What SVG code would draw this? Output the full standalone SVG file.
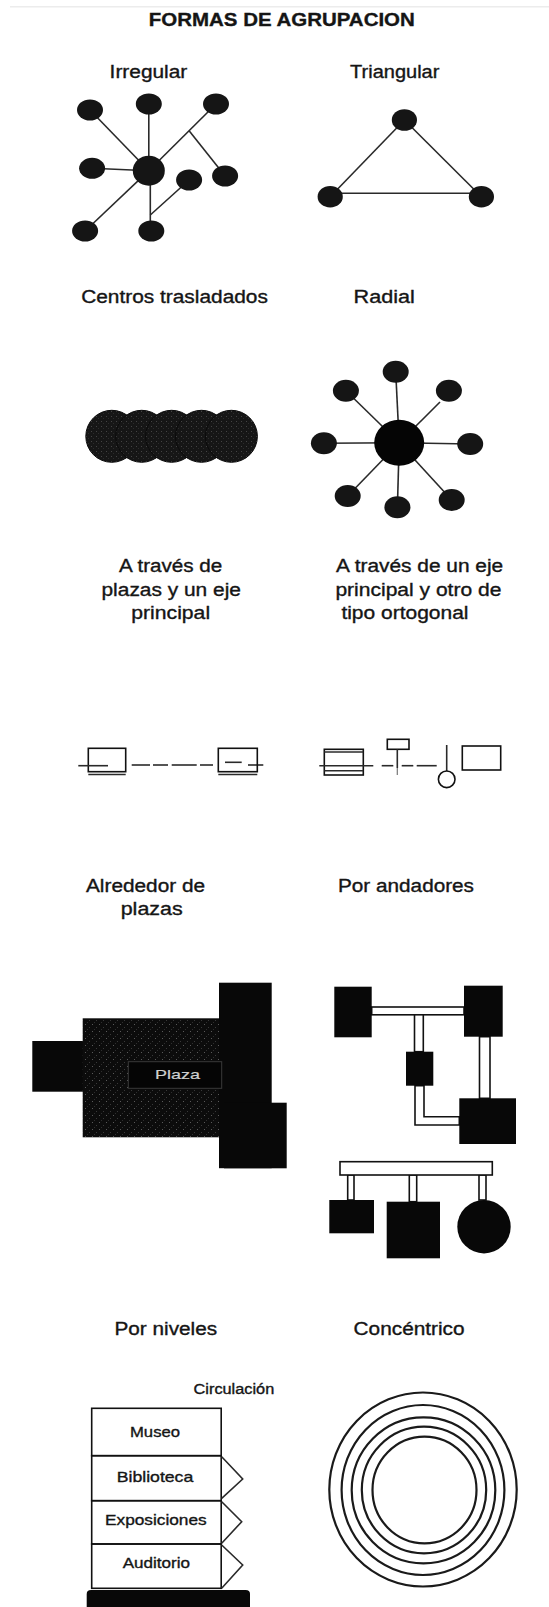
<svg xmlns="http://www.w3.org/2000/svg" width="549" height="1607" viewBox="0 0 549 1607">
<defs>
<pattern id="speck" width="7" height="7" patternUnits="userSpaceOnUse">
<rect width="7" height="7" fill="#0c0c0c"/>
<rect x="1" y="2" width="1" height="1" fill="#5a5a5a"/>
<rect x="5" y="5" width="1" height="1" fill="#3a3a3a"/>
<rect x="3" y="0" width="1" height="1" fill="#2e2e2e"/>
</pattern>
<pattern id="speck2" width="5" height="5" patternUnits="userSpaceOnUse">
<rect width="5" height="5" fill="#161616"/>
<rect x="1" y="1" width="1" height="1" fill="#444"/>
<rect x="3" y="3" width="1" height="1" fill="#2c2c2c"/>
</pattern>
</defs>
<style>
text{font-family:"Liberation Sans",Arial,sans-serif;fill:#151515;stroke:#151515;stroke-width:0.35}
.h{font-size:18px}
.t{font-size:15px}
.ln{stroke:#2a2a2a;stroke-width:1.6;fill:none}
.nd{fill:#151515}
.bx{fill:none;stroke:#111;stroke-width:1.6}
.blk{fill:#080808}
.walk{fill:#fff;stroke:#111;stroke-width:1.6}
.ring{fill:none;stroke:#1a1a1a;stroke-width:2.2}
</style>
<rect width="549" height="1607" fill="#fff"/>
<line x1="10" y1="6.7" x2="549" y2="6.7" stroke="#ececec" stroke-width="1.5"/>
<text x="148.8" y="26" font-size="18.6" font-weight="bold" textLength="266" lengthAdjust="spacingAndGlyphs">FORMAS DE AGRUPACION</text>

<!-- Irregular -->
<g id="irregular">
<text class="h" x="109.6" y="77.7" textLength="77.7" lengthAdjust="spacingAndGlyphs">Irregular</text>
<g id="irr-connectors">
<line class="ln" x1="148.8" y1="170.7" x2="90" y2="110"/>
<line class="ln" x1="148.8" y1="170.7" x2="148.8" y2="104"/>
<line class="ln" x1="148.8" y1="170.7" x2="216" y2="104"/>
<line class="ln" x1="189.1" y1="130.7" x2="225.1" y2="176"/>
<line class="ln" x1="148.8" y1="170.7" x2="92.1" y2="168.3"/>
<line class="ln" x1="148.8" y1="170.7" x2="85.1" y2="231"/>
<line class="ln" x1="150.3" y1="170.7" x2="150.3" y2="231"/>
<line class="ln" x1="189.1" y1="180" x2="150.3" y2="215"/>
</g>
<g id="irr-center"><ellipse class="nd" cx="148.8" cy="170.7" rx="16" ry="15" fill="#050505"/></g>
<g id="irr-n1"><ellipse class="nd" cx="90" cy="110" rx="13" ry="10.5"/></g>
<g id="irr-n2"><ellipse class="nd" cx="148.8" cy="104" rx="13" ry="10.5"/></g>
<g id="irr-n3"><ellipse class="nd" cx="216" cy="104" rx="13" ry="10.5"/></g>
<g id="irr-n4"><ellipse class="nd" cx="92.1" cy="168.3" rx="13" ry="10.5"/></g>
<g id="irr-n5"><ellipse class="nd" cx="225.1" cy="176" rx="13" ry="10.5"/></g>
<g id="irr-n6"><ellipse class="nd" cx="189.1" cy="180" rx="13" ry="10.5"/></g>
<g id="irr-n7"><ellipse class="nd" cx="85.1" cy="231" rx="13" ry="10.5"/></g>
<g id="irr-n8"><ellipse class="nd" cx="151.3" cy="231" rx="13" ry="10.5"/></g>
</g>

<!-- Triangular -->
<g id="triangular">
<text class="h" x="350.1" y="77.7" textLength="89.3" lengthAdjust="spacingAndGlyphs">Triangular</text>
<g id="tri-connectors">
<line class="ln" x1="404.4" y1="120" x2="330.2" y2="196.7"/>
<line class="ln" x1="404.4" y1="120" x2="481.4" y2="196.7"/>
<line class="ln" x1="330.2" y1="193.3" x2="481.4" y2="193.3" stroke-width="2.2"/>
</g>
<g id="tri-top"><ellipse class="nd" cx="404.4" cy="120" rx="12.6" ry="10.8"/></g>
<g id="tri-left"><ellipse class="nd" cx="330.2" cy="196.7" rx="12.6" ry="10.8"/></g>
<g id="tri-right"><ellipse class="nd" cx="481.4" cy="196.7" rx="12.6" ry="10.8"/></g>
</g>

<!-- Centros trasladados -->
<g id="centros">
<text class="h" x="81.2" y="303.3" textLength="186.7" lengthAdjust="spacingAndGlyphs">Centros trasladados</text>
<circle cx="111.8" cy="436.3" r="26" fill="url(#speck2)" stroke="#0a0a0a" stroke-width="1"/>
<circle cx="141.7" cy="436.3" r="26" fill="url(#speck2)" stroke="#0a0a0a" stroke-width="1"/>
<circle cx="171.6" cy="436.3" r="26" fill="url(#speck2)" stroke="#0a0a0a" stroke-width="1"/>
<circle cx="201.5" cy="436.3" r="26" fill="url(#speck2)" stroke="#0a0a0a" stroke-width="1"/>
<circle cx="231.4" cy="436.3" r="26" fill="url(#speck2)" stroke="#0a0a0a" stroke-width="1"/>
</g>

<!-- Radial -->
<g id="radial">
<text class="h" x="353.6" y="303.3" textLength="61.3" lengthAdjust="spacingAndGlyphs">Radial</text>
<g id="rad-connectors">
<line class="ln" x1="399.2" y1="442.7" x2="395.7" y2="371.7"/>
<line class="ln" x1="399.2" y1="442.7" x2="345.9" y2="390.7"/>
<line class="ln" x1="399.2" y1="442.7" x2="440" y2="402"/>
<line class="ln" x1="399.2" y1="442.7" x2="323.9" y2="443.3"/>
<line class="ln" x1="399.2" y1="442.7" x2="470.2" y2="444"/>
<line class="ln" x1="399.2" y1="442.7" x2="347.7" y2="496"/>
<line class="ln" x1="399.2" y1="442.7" x2="397.4" y2="507.3"/>
<line class="ln" x1="399.2" y1="442.7" x2="451.7" y2="500"/>
</g>
<g id="rad-center"><ellipse cx="399.2" cy="442.7" rx="25" ry="23" fill="#050505"/></g>
<g id="rad-n1"><ellipse class="nd" cx="395.7" cy="371.7" rx="13" ry="11"/></g>
<g id="rad-n2"><ellipse class="nd" cx="345.9" cy="390.7" rx="13" ry="11"/></g>
<g id="rad-n3"><ellipse class="nd" cx="448.9" cy="390.7" rx="13" ry="11"/></g>
<g id="rad-n4"><ellipse class="nd" cx="323.9" cy="443.3" rx="13" ry="11"/></g>
<g id="rad-n5"><ellipse class="nd" cx="470.2" cy="444" rx="13" ry="11"/></g>
<g id="rad-n6"><ellipse class="nd" cx="347.7" cy="496" rx="13" ry="11"/></g>
<g id="rad-n7"><ellipse class="nd" cx="397.4" cy="507.3" rx="13" ry="11"/></g>
<g id="rad-n8"><ellipse class="nd" cx="451.7" cy="500" rx="13" ry="11"/></g>
</g>

<!-- A traves de plazas y un eje principal -->
<g id="plazas-eje">
<text class="h" text-anchor="middle" x="170.7" y="571.7" textLength="103.3" lengthAdjust="spacingAndGlyphs">A través de</text>
<text class="h" text-anchor="middle" x="171.2" y="595.5" textLength="139.4" lengthAdjust="spacingAndGlyphs">plazas y un eje</text>
<text class="h" text-anchor="middle" x="170.7" y="619.3" textLength="78.8" lengthAdjust="spacingAndGlyphs">principal</text>
<rect class="bx" x="88.3" y="748.3" width="37.4" height="23.4"/>
<line class="ln" x1="88.3" y1="774.5" x2="125.7" y2="774.5"/>
<line class="ln" x1="78.3" y1="765.7" x2="108" y2="765.7"/>
<g id="pe-axis" class="ln" stroke-width="2">
<line x1="131.7" y1="765" x2="150" y2="765"/>
<line x1="153" y1="765" x2="168" y2="765"/>
<line x1="171.7" y1="765" x2="196.7" y2="765"/>
<line x1="200" y1="765" x2="213" y2="765"/>
<line x1="248" y1="765" x2="263.3" y2="765"/>
</g>
<rect class="bx" x="218.3" y="748.3" width="39" height="23.4"/>
<line class="ln" x1="218.3" y1="774.5" x2="257.3" y2="774.5"/>
<line class="ln" x1="225" y1="762.3" x2="241.7" y2="762.3" stroke-width="2.2"/>
</g>

<!-- A traves de un eje principal y otro ortogonal -->
<g id="eje-ortogonal">
<text class="h" x="336.1" y="571.7" textLength="167.1" lengthAdjust="spacingAndGlyphs">A través de un eje</text>
<text class="h" x="335.4" y="595.5" textLength="166" lengthAdjust="spacingAndGlyphs">principal y otro de</text>
<text class="h" x="341.4" y="619.3" textLength="127.1" lengthAdjust="spacingAndGlyphs">tipo ortogonal</text>
<rect class="bx" x="324.3" y="749.3" width="39" height="25.7"/>
<line class="ln" x1="324.3" y1="752" x2="363.3" y2="752"/>
<line class="ln" x1="324.3" y1="770.7" x2="363.3" y2="770.7"/>
<line class="ln" x1="319.3" y1="765.7" x2="373.3" y2="765.7"/>
<line class="ln" x1="381.7" y1="765.7" x2="393.3" y2="765.7"/>
<rect class="bx" x="387.3" y="739.3" width="21.7" height="10"/>
<line class="ln" x1="397.3" y1="749.3" x2="397.3" y2="768"/>
<line x1="397.3" y1="768" x2="397.3" y2="775" stroke="#777" stroke-width="1.2"/>
<line class="ln" x1="401.7" y1="765.7" x2="413.3" y2="765.7"/>
<line class="ln" x1="416.7" y1="765.7" x2="436.7" y2="765.7"/>
<line class="ln" x1="446.7" y1="745" x2="446.7" y2="771"/>
<circle class="bx" cx="446.7" cy="779.3" r="8.3"/>
<rect class="bx" x="462.3" y="746" width="38.4" height="24"/>
</g>

<!-- Alrededor de plazas -->
<g id="alrededor">
<text class="h" x="86" y="891.7" textLength="119" lengthAdjust="spacingAndGlyphs">Alrededor de</text>
<text class="h" x="120.7" y="914.5" textLength="62" lengthAdjust="spacingAndGlyphs">plazas</text>
<rect x="32.3" y="1041" width="51" height="50.7" class="blk"/>
<rect x="82.7" y="1018.3" width="140" height="119" fill="url(#speck)"/>
<rect x="219" y="982.7" width="52.7" height="185.5" class="blk"/>
<rect x="224" y="1102.7" width="62.7" height="65.6" class="blk"/>
<rect x="128.3" y="1061.7" width="93.4" height="26.6" fill="#050505" stroke="#3a3a3a" stroke-width="1"/>
<text x="155" y="1079.3" font-size="13.5" textLength="45" lengthAdjust="spacingAndGlyphs" style="fill:#cfcfcf;stroke:#cfcfcf;stroke-width:0.2">Plaza</text>
</g>

<!-- Por andadores -->
<g id="andadores">
<text class="h" x="338" y="891.7" textLength="136" lengthAdjust="spacingAndGlyphs">Por andadores</text>
<g id="and-connectors">
<rect class="walk" x="371.7" y="1007" width="92.3" height="7.8"/>
<rect class="walk" x="414.5" y="1014.8" width="8.8" height="36.9"/>
<path class="walk" d="M415,1085.7 V1125 H459.3 V1116.7 H424 V1085.7 Z"/>
<rect class="walk" x="479.5" y="1036.7" width="10.5" height="61.6"/>
<rect class="walk" x="347.7" y="1175" width="6.3" height="25"/>
<rect class="walk" x="409.3" y="1175" width="7.4" height="26.7"/>
<rect class="walk" x="479" y="1175" width="7" height="25"/>
</g>
<g id="and-sq1"><rect class="blk" x="334.3" y="986.7" width="37.4" height="50.6"/></g>
<g id="and-sq2"><rect class="blk" x="464" y="985.7" width="38.7" height="51"/></g>
<g id="and-sq3"><rect class="blk" x="406" y="1051.7" width="27.3" height="34"/></g>
<g id="and-sq4"><rect class="blk" x="459.3" y="1098.3" width="56.7" height="45.7"/></g>
<g id="and-bar"><rect class="walk" x="340" y="1161.7" width="152.3" height="13.3"/></g>
<g id="and-sq5"><rect class="blk" x="329.3" y="1200" width="44.7" height="33.3"/></g>
<g id="and-sq6"><rect class="blk" x="386.7" y="1201.7" width="53.3" height="56.6"/></g>
<g id="and-circ"><circle class="blk" cx="484" cy="1226.7" r="26.7"/></g>
</g>

<!-- Por niveles -->
<g id="niveles">
<text class="h" x="114.5" y="1335" textLength="102.6" lengthAdjust="spacingAndGlyphs">Por niveles</text>
<text x="193.6" y="1394.3" font-size="14" textLength="80.6" lengthAdjust="spacingAndGlyphs">Circulación</text>
<g id="niv-museo"><rect class="bx" x="91.7" y="1408.3" width="129.5" height="47.4"/>
<text class="t" x="130" y="1437.3" textLength="50" lengthAdjust="spacingAndGlyphs">Museo</text></g>
<g id="niv-biblioteca"><rect class="bx" x="91.7" y="1455.7" width="129.5" height="45"/>
<text class="t" x="116.7" y="1481.7" textLength="76.6" lengthAdjust="spacingAndGlyphs">Biblioteca</text></g>
<g id="niv-exposiciones"><rect class="bx" x="91.7" y="1500.7" width="129.5" height="43.3"/>
<text class="t" x="105" y="1525" textLength="101.7" lengthAdjust="spacingAndGlyphs">Exposiciones</text></g>
<g id="niv-auditorio"><rect class="bx" x="91.7" y="1544" width="129.5" height="44.3"/>
<text class="t" x="122.7" y="1568.3" textLength="67.3" lengthAdjust="spacingAndGlyphs">Auditorio</text></g>
<g id="niv-circulacion" class="ln">
<polyline points="221.7,1456.7 242.7,1479 221.7,1498.3"/>
<polyline points="221.7,1501.7 241.7,1521.7 221.7,1543.3"/>
<polyline points="221.7,1545 242.7,1565 221.7,1588.3"/>
</g>
<path class="blk" d="M86.7,1607 V1594 Q86.7,1590 91,1590 H245.7 Q250,1590 250,1594 V1607 Z"/>
</g>

<!-- Concentrico -->
<g id="concentrico">
<text class="h" x="353.6" y="1335" textLength="111" lengthAdjust="spacingAndGlyphs">Concéntrico</text>
<ellipse class="ring" cx="423" cy="1489.5" rx="93.7" ry="97"/>
<ellipse class="ring" cx="423" cy="1490" rx="81.4" ry="85"/>
<ellipse class="ring" cx="423.5" cy="1490.3" rx="71.8" ry="73"/>
<ellipse class="ring" cx="424" cy="1490" rx="62.2" ry="63.3"/>
<ellipse class="ring" cx="424.5" cy="1490" rx="52" ry="53.3"/>
</g>
</svg>
